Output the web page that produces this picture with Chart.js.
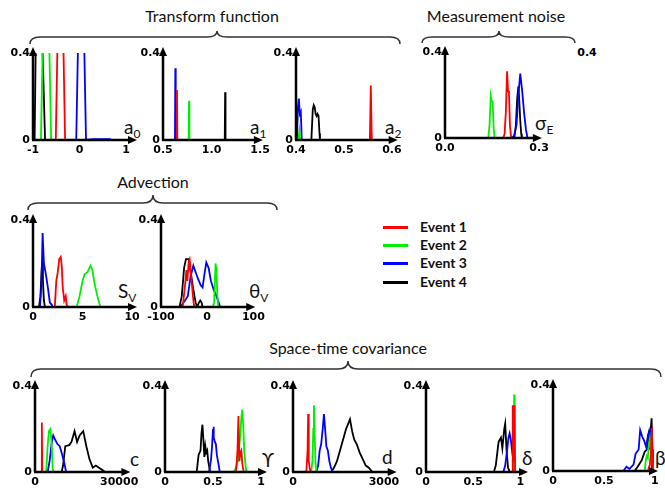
<!DOCTYPE html>
<html>
<head>
<meta charset="utf-8">
<script src="https://cdn.jsdelivr.net/npm/chart.js@4"></script>
<style>
  body { margin: 0; width: 665px; height: 489px; background: #fff; position: relative; overflow: hidden; font-family: Lato, sans-serif; }
  canvas { position: absolute; }
  .ttl { position: absolute; font-size: 16px; line-height: 16px; color: #111; white-space: nowrap; transform: translateX(-50%); }
  .var { position: absolute; font-size: 19px; line-height: 18px; color: #111; white-space: nowrap; }
  .var sub { font-size: 12px; vertical-align: -4px; }
  .stray { position: absolute; font: bold 11px "DejaVu Sans"; transform: translateX(-50%); }
  .leg { position: absolute; left: 383px; width: 25px; height: 3px; }
  .legtxt { position: absolute; left: 420px; font-weight: bold; font-size: 14px; line-height: 14px; color: #111; }
  svg { position: absolute; left: 0; top: 0; }
</style>
</head>
<body>
<svg width="665" height="489" id="braces"></svg>

<div class="ttl" style="left:212px; top:8px">Transform function</div>
<div class="ttl" style="left:496px; top:8px">Measurement noise</div>
<div class="ttl" style="left:153px; top:174px">Advection</div>
<div class="ttl" style="left:348px; top:340px">Space-time covariance</div>
<div class="stray" style="left:587px; top:46px">0.4</div>

<div class="var" style="left:124px; top:118px">a<sub>0</sub></div>
<div class="var" style="left:250px; top:118px">a<sub>1</sub></div>
<div class="var" style="left:385px; top:118px">a<sub>2</sub></div>
<div class="var" style="left:535px; top:114px">σ<sub>E</sub></div>
<div class="var" style="left:118px; top:282px">S<sub>V</sub></div>
<div class="var" style="left:249px; top:282px">θ<sub>V</sub></div>
<div class="var" style="left:130px; top:450px">c</div>
<div class="var" style="left:262px; top:451px">ϒ</div>
<div class="var" style="left:382px; top:448px">d</div>
<div class="var" style="left:522px; top:449px">δ</div>
<div class="var" style="left:655px; top:449px">β</div>

<div class="leg" style="top:226px; background:#ff0000"></div><div class="legtxt" style="top:220px">Event 1</div>
<div class="leg" style="top:244px; background:#00ee00"></div><div class="legtxt" style="top:238px">Event 2</div>
<div class="leg" style="top:262px; background:#0000ff"></div><div class="legtxt" style="top:256px">Event 3</div>
<div class="leg" style="top:281px; background:#000000"></div><div class="legtxt" style="top:275px">Event 4</div>

<script>
// posterior densities, [value, density]
const events = ["Event 1", "Event 2", "Event 3", "Event 4"];
const colors = ["#ff0000", "#00ee00", "#0000ff", "#000000"];
const yTicks = [0, 0.4];

// transform function a0
const a0Ev1 = [[-0.51,0],[-0.41,1.2],[-0.31,0]];
const a0Ev2 = [[-0.83,0],[-0.72,1.2],[-0.61,0]];
const a0Ev3 = [[-0.07,0],[0.035,1.2],[0.14,0],[0.30,0.004],[0.66,0.004],[0.68,0]];
const a0Ev4 = [[-0.965,0],[-0.9,1.2],[-0.74,0]];
const a0Ticks = [-1, 0, 1];
const a0Labels = ["-1", "0", "1"];

// a1
const a1Ev1 = [[0.64,0],[0.644,0.23],[0.648,0]];
const a1Ev2 = [[0.764,0],[0.768,0.18],[0.772,0]];
const a1Ev3 = [[0.623,0],[0.627,0.33],[0.631,0]];
const a1Ev4 = [[1.136,0],[1.14,0.22],[1.144,0]];
const a1Ticks = [0.5, 1.0, 1.5];
const a1Labels = ["0.5", "1.0", "1.5"];

// a2
const a2Ev1 = [[0.554,0],[0.556,0.25],[0.558,0]];
const a2Ev2 = [[0.405,0],[0.407,0.04],[0.409,0]];
const a2Ev3 = [[0.402,0],[0.404,0.15],[0.406,0.19],[0.408,0.12],[0.41,0.13],[0.412,0]];
const a2Ev4 = [[0.432,0],[0.435,0.14],[0.437,0.16],[0.439,0.15],[0.441,0.12],[0.443,0.11],[0.445,0.12],[0.447,0.11],[0.449,0.03],[0.45,0]];
const a2Ticks = [0.4, 0.5, 0.6];
const a2Labels = ["0.4", "0.5", "0.6"];

// measurement noise sigma_E
const nEv1 = [[0.186,0],[0.19,0.02],[0.194,0.12],[0.198,0.31],[0.201,0.22],[0.204,0.21],[0.207,0.06],[0.211,0]];
const nEv2 = [[0.138,0],[0.142,0.06],[0.146,0.195],[0.149,0.17],[0.152,0.17],[0.155,0.05],[0.158,0]];
const nEv3 = [[0.212,0],[0.22,0.01],[0.228,0.06],[0.234,0.2],[0.24,0.3],[0.246,0.22],[0.252,0.12],[0.258,0.04],[0.263,0]];
const nEv4 = [[0.221,0],[0.226,0.06],[0.23,0.18],[0.234,0.24],[0.237,0.17],[0.24,0.08],[0.243,0.02],[0.245,0]];
const nTicks = [0, 0.3];
const nLabels = ["0.0", "0.3"];

// advection speed S_V
const svEv1 = [[2.2,0],[2.35,0.12],[2.5,0.16],[2.65,0.22],[2.8,0.23],[2.9,0.19],[3.0,0.09],[3.15,0.03],[3.3,0.05],[3.4,0.01],[3.55,0]];
const svEv2 = [[4.4,0],[4.7,0.05],[5.0,0.12],[5.2,0.15],[5.5,0.16],[5.8,0.19],[6.0,0.17],[6.2,0.11],[6.5,0.05],[6.8,0]];
const svEv3 = [[0.7,0],[0.85,0.1],[0.97,0.34],[1.1,0.2],[1.3,0.15],[1.5,0.09],[1.7,0.02],[1.9,0.01],[2.0,0]];
const svEv4 = [[0.6,0],[0.75,0.05],[0.85,0.15],[0.93,0.21],[1.0,0.12],[1.1,0.03],[1.2,0]];
const svTicks = [0, 5, 10];
const svLabels = ["0", "5", "10"];

// advection direction theta_V
const thEv1 = [[-53,0],[-48,0.1],[-45,0.17],[-43,0.12],[-40,0.21],[-38,0.22],[-36,0.17],[-33,0.1],[-30,0.03],[-28,0]];
const thEv2 = [[12,0],[15,0.02],[18,0.2],[20,0.17],[22,0.05],[24,0]];
const thEv3 = [[-60,0],[-55,0.01],[-48,0.03],[-42,0.05],[-36,0.14],[-30,0.19],[-25,0.16],[-20,0.13],[-14,0.1],[-10,0.09],[-6,0.15],[-2,0.205],[3,0.18],[8,0.12],[14,0.08],[20,0.05],[25,0.02],[28,0]];
const thEv4 = [[-60,0],[-55,0.05],[-50,0.18],[-46,0.22],[-40,0.22],[-35,0.15],[-30,0.08],[-25,0.02],[-22,0],[-18,0.02],[-15,0.03],[-12,0.02],[-10,0]];
const thTicks = [-100, 0, 100];
const thLabels = ["-100", "0", "100"];

// space-time covariance c
const cEv1 = [[2300,0],[2440,0.23],[2580,0]];
const cEv2 = [[4000,0],[4500,0.12],[5000,0.19],[5500,0.2],[6000,0.12],[6300,0.02],[6500,0]];
const cEv3 = [[4500,0],[5200,0.05],[6000,0.14],[6500,0.17],[7200,0.15],[8000,0.13],[8800,0.12],[9500,0.09],[10300,0.05],[11100,0]];
const cEv4 = [[9500,0],[10000,0.03],[10800,0.12],[12200,0.125],[13000,0.14],[14100,0.19],[15000,0.14],[15900,0.17],[17200,0.19],[18300,0.12],[19400,0.06],[20600,0.02],[21700,0.03],[22800,0.02],[23900,0.01],[25000,0]];
const cTicks = [0, 30000];
const cLabels = ["0", "30000"];

// gamma
const gEv1 = [[0.74,0],[0.755,0.1],[0.765,0.26],[0.775,0.05],[0.785,0.09],[0.795,0.1],[0.805,0.04],[0.82,0]];
const gEv2 = [[0.71,0],[0.73,0.01],[0.76,0.05],[0.78,0.15],[0.795,0.25],[0.805,0.29],[0.815,0.22],[0.825,0.1],[0.835,0.05],[0.845,0.01],[0.86,0]];
const gEv3 = [[0.46,0],[0.48,0.06],[0.49,0.12],[0.5,0.2],[0.505,0.21],[0.51,0.16],[0.52,0.14],[0.53,0.13],[0.54,0.08],[0.56,0.03],[0.57,0]];
const gEv4 = [[0.33,0],[0.35,0.08],[0.37,0.1],[0.38,0.18],[0.39,0.22],[0.40,0.15],[0.41,0.07],[0.42,0.12],[0.43,0.09],[0.44,0.1],[0.45,0.05],[0.47,0]];
const gTicks = [0, 0.5, 1];
const gLabels = ["0", "0.5", "1"];

// d
const dEv1 = [[440,0],[480,0.1],[500,0.27],[520,0.05],[550,0.02],[580,0]];
const dEv2 = [[600,0],[640,0.05],[670,0.2],[690,0.31],[710,0.2],[740,0.05],[770,0]];
const dEv3 = [[770,0],[830,0.03],[880,0.1],[930,0.13],[980,0.2],[1020,0.27],[1060,0.2],[1100,0.12],[1150,0.1],[1200,0.05],[1250,0.02],[1310,0]];
const dEv4 = [[1260,0],[1350,0.02],[1450,0.05],[1550,0.1],[1650,0.15],[1750,0.2],[1880,0.245],[1950,0.19],[2020,0.15],[2100,0.13],[2200,0.09],[2300,0.06],[2400,0.03],[2500,0.02],[2620,0]];
const dTicks = [0, 3000];
const dLabels = ["0", "3000"];

// delta
const deEv1 = [[0.915,0],[0.92,0.31],[0.925,0.05],[0.93,0.31],[0.935,0.1],[0.94,0.31],[0.945,0]];
const deEv2 = [[0.93,0],[0.935,0.36],[0.94,0.1],[0.945,0]];
const deEv3 = [[0.82,0],[0.84,0.03],[0.86,0.1],[0.875,0.16],[0.887,0.18],[0.9,0.15],[0.915,0.09],[0.93,0.05],[0.945,0]];
const deEv4 = [[0.72,0],[0.74,0.03],[0.77,0.14],[0.795,0.16],[0.81,0.11],[0.83,0.2],[0.84,0.225],[0.855,0.1],[0.87,0.02],[0.89,0]];
const deTicks = [0, 0.5, 1];
const deLabels = ["0", "0.5", "1"];

// beta
const bEv1 = [[0.93,0],[0.95,0.03],[0.96,0.08],[0.965,0.15],[0.97,0.2],[0.975,0.1],[0.98,0]];
const bEv2 = [[0.9,0],[0.91,0.05],[0.92,0.07],[0.93,0.06],[0.94,0.12],[0.95,0.15],[0.96,0.1],[0.97,0.08],[0.975,0.04],[0.98,0]];
const bEv3 = [[0.69,0],[0.72,0.02],[0.75,0.01],[0.79,0.03],[0.81,0.08],[0.84,0.1],[0.855,0.19],[0.875,0.16],[0.895,0.14],[0.915,0.11],[0.935,0.17],[0.955,0.19],[0.965,0.1],[0.97,0]];
const bEv4 = [[0.8,0],[0.83,0.02],[0.87,0.05],[0.9,0.09],[0.92,0.1],[0.93,0.16],[0.94,0.18],[0.95,0.1],[0.96,0.2],[0.967,0.245],[0.975,0.1],[0.98,0]];
const bTicks = [0, 0.5, 1];
const bLabels = ["0", "0.5", "1"];

// panel placement: axis origin (ox, oy), top of y range (ty), arrow tip (ax)
const panels = [
  {series: [a0Ev1, a0Ev2, a0Ev3, a0Ev4], ticks: a0Ticks, labels: a0Labels, ox: 33,  oy: 140, ty: 53,  ax: 137, xmin: -1,   xmax: 1.237},
  {series: [a1Ev1, a1Ev2, a1Ev3, a1Ev4], ticks: a1Ticks, labels: a1Labels, ox: 163, oy: 140, ty: 53,  ax: 268, xmin: 0.5,  xmax: 1.529},
  {series: [a2Ev1, a2Ev2, a2Ev3, a2Ev4], ticks: a2Ticks, labels: a2Labels, ox: 296, oy: 140, ty: 53,  ax: 400, xmin: 0.4,  xmax: 0.612},
  {series: [nEv1, nEv2, nEv3, nEv4],     ticks: nTicks,  labels: nLabels,  ox: 445, oy: 138, ty: 52,  ax: 547, xmin: 0,    xmax: 0.309},
  {series: [svEv1, svEv2, svEv3, svEv4], ticks: svTicks, labels: svLabels, ox: 33,  oy: 307, ty: 220, ax: 138, xmin: 0,    xmax: 10.5},
  {series: [thEv1, thEv2, thEv3, thEv4], ticks: thTicks, labels: thLabels, ox: 161, oy: 307, ty: 220, ax: 263, xmin: -100, xmax: 104},
  {series: [cEv1, cEv2, cEv3, cEv4],     ticks: cTicks,  labels: cLabels,  ox: 35,  oy: 472, ty: 386, ax: 137, xmin: 0,    xmax: 34000},
  {series: [gEv1, gEv2, gEv3, gEv4],     ticks: gTicks,  labels: gLabels,  ox: 165, oy: 472, ty: 386, ax: 267, xmin: 0,    xmax: 1.0625},
  {series: [dEv1, dEv2, dEv3, dEv4],     ticks: dTicks,  labels: dLabels,  ox: 293, oy: 472, ty: 386, ax: 398, xmin: 0,    xmax: 3420},
  {series: [deEv1, deEv2, deEv3, deEv4], ticks: deTicks, labels: deLabels, ox: 426, oy: 472, ty: 386, ax: 528, xmin: 0,    xmax: 1.082},
  {series: [bEv1, bEv2, bEv3, bEv4],     ticks: bTicks,  labels: bLabels,  ox: 553, oy: 471, ty: 385, ax: 658, xmin: 0,    xmax: 1.03}
];

// black axes with arrow heads
const axisArrows = {
  id: "axisArrows",
  afterDraw(chart) {
    const {ctx, chartArea: a} = chart;
    ctx.save();
    ctx.strokeStyle = "#000";
    ctx.fillStyle = "#000";
    ctx.lineWidth = 2.5;
    ctx.beginPath();
    ctx.moveTo(a.left, a.bottom); ctx.lineTo(a.left, a.top);
    ctx.moveTo(a.left - 1, a.bottom); ctx.lineTo(a.right - 6, a.bottom);
    ctx.stroke();
    ctx.beginPath();
    ctx.moveTo(a.left, a.top - 6); ctx.lineTo(a.left - 4, a.top + 3); ctx.lineTo(a.left + 4, a.top + 3);
    ctx.closePath(); ctx.fill();
    ctx.beginPath();
    ctx.moveTo(a.right, a.bottom); ctx.lineTo(a.right - 9, a.bottom - 4); ctx.lineTo(a.right - 9, a.bottom + 4);
    ctx.closePath(); ctx.fill();
    ctx.restore();
  }
};

const tickFont = {family: "DejaVu Sans", size: 11, weight: "bold"};
const padL = 34, padT = 12, padR = 6, padB = 20;

panels.forEach(p => {
  const cv = document.createElement("canvas");
  const w = (p.ax - p.ox) + padL + padR;
  const h = (p.oy - p.ty) + padT + padB;
  cv.width = w; cv.height = h;
  cv.style.left = (p.ox - padL) + "px";
  cv.style.top = (p.ty - padT) + "px";
  cv.style.width = w + "px"; cv.style.height = h + "px";
  document.body.appendChild(cv);

  new Chart(cv, {
    type: "line",
    data: {
      datasets: p.series.map((s, i) => ({
        label: events[i],
        data: s.map(pt => ({x: pt[0], y: pt[1]})),
        borderColor: colors[i],
        borderWidth: 1.8,
        pointRadius: 0,
        tension: 0,
        fill: false,
        clip: 0
      }))
    },
    options: {
      responsive: false,
      animation: false,
      devicePixelRatio: 1,
      layout: {padding: {left: 0, top: padT, right: padR, bottom: 0}},
      plugins: {legend: {display: false}, tooltip: {enabled: false}},
      scales: {
        x: {
          type: "linear",
          min: p.xmin, max: p.xmax,
          grid: {display: false, drawTicks: false},
          border: {display: false},
          afterBuildTicks: sc => { sc.ticks = p.ticks.map(v => ({value: v})); },
          afterFit: sc => { sc.height = padB; },
          ticks: {
            autoSkip: false, maxRotation: 0, padding: 4, color: "#000", font: tickFont,
            callback: (v, i) => p.labels[i]
          }
        },
        y: {
          min: 0, max: 0.4,
          grid: {display: false, drawTicks: false},
          border: {display: false},
          afterBuildTicks: sc => { sc.ticks = yTicks.map(v => ({value: v})); },
          afterFit: sc => { sc.width = padL; },
          ticks: {
            autoSkip: false, padding: 3, color: "#000", font: tickFont,
            callback: v => (v === 0 ? "0" : v.toFixed(1))
          }
        }
      }
    },
    plugins: [axisArrows]
  });
});

// curly braces over the panel groups
function brace(x1, x2, xm, yEnd, yLine, yTip) {
  const r = 10;
  return `M${x1},${yEnd} Q${x1},${yLine} ${x1 + r},${yLine} L${xm - r},${yLine} Q${xm},${yLine} ${xm},${yTip} ` +
         `Q${xm},${yLine} ${xm + r},${yLine} L${x2 - r},${yLine} Q${x2},${yLine} ${x2},${yEnd}`;
}
const svg = document.getElementById("braces");
[[30, 400, 217, 44, 37, 31], [422, 575, 499, 43, 37, 31], [28, 277, 153, 210, 203, 195], [31, 661, 348, 377, 369, 361]]
  .forEach(b => {
    const path = document.createElementNS("http://www.w3.org/2000/svg", "path");
    path.setAttribute("d", brace(...b));
    path.setAttribute("fill", "none");
    path.setAttribute("stroke", "#333");
    path.setAttribute("stroke-width", "1.5");
    svg.appendChild(path);
  });
</script>
</body>
</html>
